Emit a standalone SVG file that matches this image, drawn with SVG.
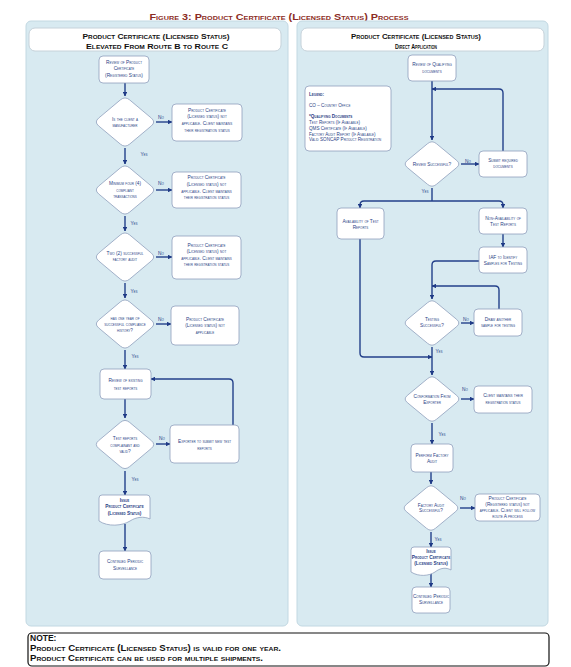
<svg xmlns="http://www.w3.org/2000/svg" xmlns:xlink="http://www.w3.org/1999/xlink" width="571" height="667" viewBox="0 0 571 667">
<defs>
<style>
.n{font-family:"Liberation Sans",Arial,sans-serif;font-size:4.8px;font-variant:small-caps;fill:#2b3f86;text-anchor:middle}
.lg{font-family:"Liberation Sans",Arial,sans-serif;font-size:4.6px;font-variant:small-caps;fill:#2b3f86}
.b{font-weight:bold}
.lbl{font-family:"Liberation Sans",Arial,sans-serif;font-size:4.8px;font-variant:small-caps;fill:#1f3c88;text-anchor:middle}
.box{fill:#fff;stroke:#8fa0bd;stroke-width:0.8}
.panel{fill:#d8eaf1;stroke:#c2d8e2;stroke-width:1}
.hdr{fill:#fff;stroke:#c6d2da;stroke-width:1}
.hd{font-family:"Liberation Sans",Arial,sans-serif;font-weight:bold;font-variant:small-caps;fill:#111;text-anchor:middle}
.c{fill:none;stroke:#23408a;stroke-width:1.4;stroke-linejoin:round}
.nt{font-family:"Liberation Sans",Arial,sans-serif;font-weight:bold;font-variant:small-caps;font-size:8.5px;fill:#111}
</style>
<marker id="ah" viewBox="0 0 10 10" refX="9" refY="5" markerWidth="4.5" markerHeight="4.5" markerUnits="userSpaceOnUse" orient="auto"><path d="M0,0 L10,5 L0,10 z" fill="#1f3a86"/></marker>
<path id="dL" class="box" d="M-4.65,-22.1 q4.65,-3.9 9.3,0 l21.7,18.2 q4.65,3.9 0,7.8 l-21.7,18.2 q-4.65,3.9 -9.3,0 l-21.7,-18.2 q-4.65,-3.9 0,-7.8 z"/>
<path id="dR" class="box" d="M-4.35,-20.4 q4.35,-3.6 8.7,0 l20.3,16.8 q4.35,3.6 0,7.2 l-20.3,16.8 q-4.35,3.6 -8.7,0 l-20.3,-16.8 q-4.35,-3.6 0,-7.2 z"/>
</defs>

<rect width="571" height="667" fill="#fff"/>

<text x="279" y="19.5" font-family="Liberation Sans, Arial, sans-serif" font-weight="bold" font-size="9" font-variant="small-caps" fill="#8b2c24" text-anchor="middle" textLength="259" lengthAdjust="spacingAndGlyphs">Figure 3: Product Certificate (Licensed Status) Process</text>

<g id="panel-left">
<rect class="panel" x="26" y="21" width="262" height="605" rx="5"/>
<rect class="hdr" x="29" y="28" width="252" height="23" rx="6"/>
<text class="hd" x="156" y="39" font-size="8" textLength="147" lengthAdjust="spacingAndGlyphs">Product Certificate (Licensed Status)</text>
<text class="hd" x="157" y="49" font-size="8" textLength="142" lengthAdjust="spacingAndGlyphs">Elevated From Route B to Route C</text>
</g>
<g id="panel-right">
<rect class="panel" x="297" y="21" width="251" height="605" rx="5"/>
<rect class="hdr" x="301" y="28" width="243" height="23" rx="6"/>
<text class="hd" x="416" y="39" font-size="7.2" textLength="130" lengthAdjust="spacingAndGlyphs">Product Certificate (Licensed Status)</text>
<text class="hd" x="416" y="49" font-size="7.2" textLength="42" lengthAdjust="spacingAndGlyphs">Direct Application</text>
</g>

<g id="connectors">
<!-- left column -->
<path class="c" d="M125,83 V96" marker-end="url(#ah)"/>
<path class="c" d="M125,148 V164" marker-end="url(#ah)"/>
<path class="c" d="M125,216 V231" marker-end="url(#ah)"/>
<path class="c" d="M125,283 V298" marker-end="url(#ah)"/>
<path class="c" d="M125,350 V369" marker-end="url(#ah)"/>
<path class="c" d="M125,399 V418" marker-end="url(#ah)"/>
<path class="c" d="M125,471 V495" marker-end="url(#ah)"/>
<path class="c" d="M125,524 V551" marker-end="url(#ah)"/>
<path class="c" d="M156,122 H172" marker-end="url(#ah)"/>
<path class="c" d="M156,190 H172" marker-end="url(#ah)"/>
<path class="c" d="M156,257 H172" marker-end="url(#ah)"/>
<path class="c" d="M156,324 H171" marker-end="url(#ah)"/>
<path class="c" d="M156,444 H170" marker-end="url(#ah)"/>
<path class="c" d="M233,425 V383 Q233,379 229,379 H151" marker-end="url(#ah)"/>
<!-- right column -->
<path class="c" d="M432,81 V140" marker-end="url(#ah)"/>
<path class="c" d="M503,151 V93 Q503,89 499,89 H432" marker-end="url(#ah)"/>
<path class="c" d="M461,164 H479" marker-end="url(#ah)"/>
<path class="c" d="M432,188 V201"/>
<path class="c" d="M432,201 H364 Q360,201 360,205 V208" marker-end="url(#ah)"/>
<path class="c" d="M432,201 H499 Q503,201 503,205 V208" marker-end="url(#ah)"/>
<path class="c" d="M503,234 V247" marker-end="url(#ah)"/>
<path class="c" d="M479,261 H436 Q432,261 432,265 V299" marker-end="url(#ah)"/>
<path class="c" d="M499,309 V290 Q499,286 495,286 H432" marker-end="url(#ah)"/>
<path class="c" d="M461,323 H474" marker-end="url(#ah)"/>
<path class="c" d="M360,239 V353 Q360,357 364,357 H432" marker-end="url(#ah)"/>
<path class="c" d="M432,347 V375" marker-end="url(#ah)"/>
<path class="c" d="M461,399 H474" marker-end="url(#ah)"/>
<path class="c" d="M432,423 V444" marker-end="url(#ah)"/>
<path class="c" d="M431,472 V484" marker-end="url(#ah)"/>
<path class="c" d="M460,508 H475" marker-end="url(#ah)"/>
<path class="c" d="M431,532 V547" marker-end="url(#ah)"/>
<path class="c" d="M431,573 V587" marker-end="url(#ah)"/>
<!-- labels -->
<text class="lbl" x="161" y="118.5">No</text>
<text class="lbl" x="161" y="184.5">No</text>
<text class="lbl" x="161" y="254.8">No</text>
<text class="lbl" x="161" y="320.5">No</text>
<text class="lbl" x="162" y="439.5">No</text>
<text class="lbl" x="144" y="155.5">Yes</text>
<text class="lbl" x="134" y="224.5">Yes</text>
<text class="lbl" x="134" y="292.5">Yes</text>
<text class="lbl" x="135" y="357.5">Yes</text>
<text class="lbl" x="135" y="480.5">Yes</text>
<text class="lbl" x="468" y="163">No</text>
<text class="lbl" x="466" y="320.5">No</text>
<text class="lbl" x="465" y="390.5">No</text>
<text class="lbl" x="463" y="499.5">No</text>
<text class="lbl" x="425" y="192.5">Yes</text>
<text class="lbl" x="439" y="352.5">Yes</text>
<text class="lbl" x="442" y="435.5">Yes</text>
<text class="lbl" x="438" y="540.5">Yes</text>
</g>

<!-- LEFT NODES -->
<g id="L1">
<rect class="box" x="99" y="56" width="50" height="27" rx="4"/>
<text class="n" x="124" y="63.5">Review of Product</text>
<text class="n" x="124" y="70">Certificate</text>
<text class="n" x="124" y="76.5">(Registered Status)</text>
</g>
<g id="L2">
<use xlink:href="#dL" x="125" y="122"/>
<text class="n" x="125" y="120.5">Is the client a</text>
<text class="n" x="125" y="126.5">manufacturer</text>
</g>
<g id="L2-no">
<rect class="box" x="172" y="104" width="70" height="37" rx="4"/>
<text class="n" x="207" y="111.5">Product Certificate</text>
<text class="n" x="207" y="118.2">(Licensed status) not</text>
<text class="n" x="207" y="124.8">applicable. Client maintains</text>
<text class="n" x="207" y="131.5">their registration status</text>
</g>
<g id="L3">
<use xlink:href="#dL" x="125" y="190"/>
<text class="n" x="125" y="184.8">Minimum four (4)</text>
<text class="n" x="125" y="191.5">compliant</text>
<text class="n" x="125" y="198">transactions</text>
</g>
<g id="L3-no">
<rect class="box" x="172" y="172" width="69" height="36" rx="4"/>
<text class="n" x="206.5" y="178.5">Product Certificate</text>
<text class="n" x="206.5" y="185.5">(Licensed status) not</text>
<text class="n" x="206.5" y="192.5">applicable. Client maintains</text>
<text class="n" x="206.5" y="199">their registration status</text>
</g>
<g id="L4">
<use xlink:href="#dL" x="125" y="257"/>
<text class="n" x="125" y="254.8">Two (2) successful</text>
<text class="n" x="125" y="260.8">factory audit</text>
</g>
<g id="L4-no">
<rect class="box" x="172" y="236" width="69" height="43" rx="4"/>
<text class="n" x="206.5" y="246.5">Product Certificate</text>
<text class="n" x="206.5" y="253.2">(Licensed status) not</text>
<text class="n" x="206.5" y="259.8">applicable. Client maintains</text>
<text class="n" x="206.5" y="266">their registration status</text>
</g>
<g id="L5">
<use xlink:href="#dL" x="125" y="324"/>
<text class="n" x="125" y="319.8">has one year of</text>
<text class="n" x="125" y="326">successful compliance</text>
<text class="n" x="125" y="332.2">history?</text>
</g>
<g id="L5-no">
<rect class="box" x="171" y="306" width="68" height="39" rx="4"/>
<text class="n" x="205" y="320.5">Product Certificate</text>
<text class="n" x="205" y="327.2">(Licensed status) not</text>
<text class="n" x="205" y="333.8">applicable</text>
</g>
<g id="L6">
<rect class="box" x="100" y="369" width="51" height="30" rx="4"/>
<text class="n" x="125.5" y="382.2">Review of existing</text>
<text class="n" x="125.5" y="389.8">test reports</text>
</g>
<g id="L7">
<use xlink:href="#dL" x="125" y="444.5"/>
<text class="n" x="125" y="439.8">Test reports</text>
<text class="n" x="125" y="446.5">complainant and</text>
<text class="n" x="125" y="453.2">valid?</text>
</g>
<g id="L7-no">
<rect class="box" x="170" y="425" width="69" height="38" rx="4"/>
<text class="n" x="204.5" y="443.2">Exporter to submit new test</text>
<text class="n" x="204.5" y="449.8">reports</text>
</g>
<g id="L8">
<path class="box" d="M99,498 a3,3 0 0 1 3,-3 h45 a3,3 0 0 1 3,3 v21 c-6,-3 -14,-2 -20,2 c-8,5 -22,6 -31,0 z"/>
<text class="n b" x="124.5" y="501.5">Issue</text>
<text class="n b" x="124.5" y="508.2">Product Certificate</text>
<text class="n b" x="124.5" y="514.8">(Licensed Status)</text>
</g>
<g id="L9">
<rect class="box" x="99" y="551" width="52" height="28" rx="4"/>
<text class="n" x="125" y="563.2">Continued Periodic</text>
<text class="n" x="125" y="569.8">Surveillance</text>
</g>

<!-- RIGHT NODES -->
<g id="R0">
<rect class="box" x="408" y="55" width="48" height="26" rx="4"/>
<text class="n" x="432" y="65.8">Review of Qualifying</text>
<text class="n" x="432" y="72.5">documents</text>
</g>
<g id="legend">
<rect class="box" x="305" y="86" width="86" height="65" rx="4"/>
<text class="lg b" x="309" y="95.5">Legend:</text>
<text class="lg" x="309" y="106.5">CO – Country Office</text>
<text class="lg b" x="309" y="118.2">*Qualifying Documents</text>
<text class="lg" x="309" y="124.2">Test Reports (If Available)</text>
<text class="lg" x="309" y="129.9">QMS Certificate (If Available)</text>
<text class="lg" x="309" y="135.6">Factory Audit Report (If Available)</text>
<text class="lg" x="309" y="141.3">Valid SONCAP Product Registration</text>
</g>
<g id="R1">
<use xlink:href="#dR" x="432" y="164"/>
<text class="n" x="432" y="165.5">Review Successful?</text>
</g>
<g id="R1-no">
<rect class="box" x="479" y="151" width="48" height="26" rx="4"/>
<text class="n" x="503" y="162.2">Submit required</text>
<text class="n" x="503" y="168.2">documents</text>
</g>
<g id="R-avail">
<rect class="box" x="337" y="208" width="47" height="31" rx="4"/>
<text class="n" x="360.5" y="223.2">Availability of Test</text>
<text class="n" x="360.5" y="229.2">Reports</text>
</g>
<g id="R-nonavail">
<rect class="box" x="479" y="208" width="48" height="26" rx="4"/>
<text class="n" x="503" y="219.8">Non-Availability of</text>
<text class="n" x="503" y="225.8">Test Reports</text>
</g>
<g id="R-iaf">
<rect class="box" x="479" y="247" width="48" height="26" rx="4"/>
<text class="n" x="503" y="259.2">IAF to Identify</text>
<text class="n" x="503" y="264.8">Samples for Testing</text>
</g>
<g id="R2">
<use xlink:href="#dR" x="432" y="323"/>
<text class="n" x="432" y="320.8">Testing</text>
<text class="n" x="432" y="327.2">Successful?</text>
</g>
<g id="R2-no">
<rect class="box" x="474" y="309" width="48" height="27" rx="4"/>
<text class="n" x="498" y="320.8">Draw another</text>
<text class="n" x="498" y="327.2">sample for testing</text>
</g>
<g id="R3">
<use xlink:href="#dR" x="432" y="399"/>
<text class="n" x="432" y="398.2">Conformation From</text>
<text class="n" x="432" y="404.2">Exporter</text>
</g>
<g id="R3-no">
<rect class="box" x="474" y="386" width="58" height="27" rx="4"/>
<text class="n" x="503" y="397.2">Client maintains their</text>
<text class="n" x="503" y="403.8">registration status</text>
</g>
<g id="R-perform">
<rect class="box" x="411" y="444" width="42" height="28" rx="4"/>
<text class="n" x="432" y="456.5">Perform Factory</text>
<text class="n" x="432" y="462.5">Audit</text>
</g>
<g id="R4">
<use xlink:href="#dR" x="431" y="508"/>
<text class="n" x="431" y="506.5">Factory Audit</text>
<text class="n" x="431" y="512.2">Successful?</text>
</g>
<g id="R4-no">
<rect class="box" x="475" y="494" width="65" height="27" rx="4"/>
<text class="n" x="507.5" y="499.6">Product Certificate</text>
<text class="n" x="507.5" y="505.8">(Registered status) not</text>
<text class="n" x="507.5" y="511.6">applicable. Client will follow</text>
<text class="n" x="507.5" y="517.5">route A process</text>
</g>
<g id="R-issue">
<path class="box" d="M411,550 a3,3 0 0 1 3,-3 h34 a3,3 0 0 1 3,3 v20 c-5,-3 -11,-2 -16,2 c-6,4 -16,5 -24,0 z"/>
<text class="n b" x="431" y="552.8">Issue</text>
<text class="n b" x="431" y="558.6">Product Certificate</text>
<text class="n b" x="431" y="564.8">(Licensed Status)</text>
</g>
<g id="R-continued">
<rect class="box" x="412" y="587" width="38" height="26" rx="4"/>
<text class="n" x="431" y="598.2">Continued Periodic</text>
<text class="n" x="431" y="604.2">Surveillance</text>
</g>

<g id="note">
<rect x="28" y="633" width="521" height="33" rx="4" fill="#fff" stroke="#111" stroke-width="1.2"/>
<text class="nt" x="30" y="640.5">NOTE:</text>
<text class="nt" x="30" y="650.5" textLength="251" lengthAdjust="spacingAndGlyphs">Product Certificate (Licensed Status) is valid for one year.</text>
<text class="nt" x="30" y="660.5" textLength="233" lengthAdjust="spacingAndGlyphs">Product Certificate can be used for multiple shipments.</text>
</g>
</svg>
